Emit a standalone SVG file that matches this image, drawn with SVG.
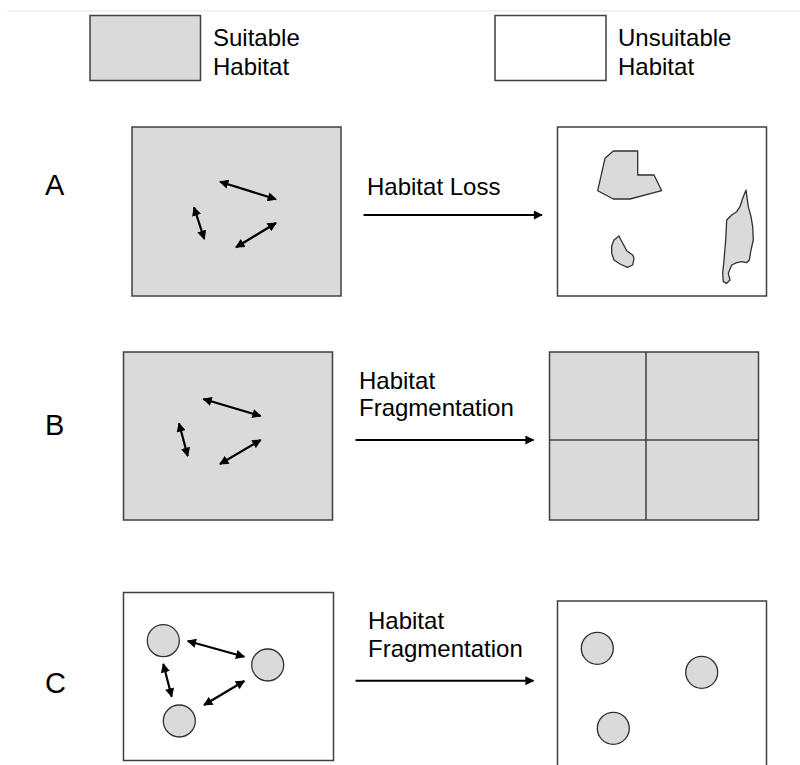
<svg xmlns="http://www.w3.org/2000/svg" width="800" height="765" viewBox="0 0 800 765">
  <defs>
    <marker id="head" viewBox="0 0 10 10" refX="9" refY="5" markerWidth="4.4" markerHeight="4.2" orient="auto-start-reverse" markerUnits="strokeWidth">
      <path d="M0,0 L10,5 L0,10 Z" fill="#000"/>
    </marker>
    <marker id="bighead" viewBox="0 0 10 10" refX="9" refY="5" markerWidth="5.5" markerHeight="4.5" orient="auto" markerUnits="strokeWidth">
      <path d="M0,0 L10,5 L0,10 Z" fill="#000"/>
    </marker>
    <style>
      .suit { fill: #dadada; stroke: #404040; stroke-width: 1.5; }
      .unsuit { fill: #ffffff; stroke: #404040; stroke-width: 1.5; }
      .patch { fill: #dadada; stroke: #303030; stroke-width: 1.3; stroke-linejoin: round; }
      .grid { stroke: #404040; stroke-width: 1.5; fill: none; }
      .move { stroke: #000; stroke-width: 2.2; fill: none; marker-start: url(#head); marker-end: url(#head); }
      .flow { stroke: #000; stroke-width: 2; fill: none; marker-end: url(#bighead); }
      text { font-family: "Liberation Sans", Arial, sans-serif; fill: #000; }
      .lbl { font-size: 24px; }
      .row { font-size: 29px; }
    </style>
  </defs>

  <rect width="800" height="765" fill="#ffffff"/>
  <line x1="7" y1="11" x2="800" y2="11" stroke="#f2f2f2" stroke-width="2"/>

  <!-- Legend -->
  <g id="legend-suitable">
    <rect class="suit" x="90" y="15.5" width="110.5" height="65"/>
    <text class="lbl" x="213" y="45.5">Suitable</text>
    <text class="lbl" x="213" y="75">Habitat</text>
  </g>
  <g id="legend-unsuitable">
    <rect class="unsuit" x="495" y="15.5" width="111" height="65"/>
    <text class="lbl" x="618" y="45.5">Unsuitable</text>
    <text class="lbl" x="618" y="75">Habitat</text>
  </g>

  <!-- Row labels -->
  <text class="row" x="45" y="194.5">A</text>
  <text class="row" x="45" y="434.5">B</text>
  <text class="row" x="45" y="692.5">C</text>

  <!-- Row A -->
  <g id="a-before">
    <rect class="suit" x="132" y="127" width="209" height="169"/>
  </g>
  <g id="a-after">
    <rect class="unsuit" x="557.5" y="127" width="209" height="169"/>
    <polygon class="patch" points="613.3,151 637.7,151 637.7,175 654,175 661.7,190.7 630,199 613.3,199 597.7,190.7 605,158.3"/>
    <path class="patch" d="M619,236 L621,240 L626.7,250.7 L632.7,255 L634,258.3 L632.7,265 L627.3,267.3 L620,264 L614,260 L611.7,253.3 L611.7,246 L614,240 Z"/>
    <path class="patch" d="M746,190 L748.3,206.7 L751,216.7 L752.7,226.7 L753.3,240 L751,250 L749.3,260 L746.7,262.7 L741.7,261.7 L736.7,262.7 L731.7,265 L728.3,273.3 L730,280 L726.7,283.3 L723.3,281.7 L722.7,273.3 L724,260 L725.7,240 L726.7,220 L731.7,215 L736.7,211.7 L740,206.7 L742.7,198.3 Z"/>
  </g>

  <!-- Row B -->
  <g id="b-before">
    <rect class="suit" x="123.5" y="352" width="209" height="168"/>
  </g>
  <g id="b-after">
    <rect class="suit" x="549.5" y="352" width="209" height="168"/>
    <line class="grid" x1="646" y1="352" x2="646" y2="520"/>
    <line class="grid" x1="549.5" y1="440" x2="758.5" y2="440"/>
  </g>

  <!-- Row C -->
  <g id="c-before">
    <rect class="unsuit" x="123.5" y="592.5" width="210" height="168"/>
    <circle class="patch" cx="163.3" cy="640.7" r="16"/>
    <circle class="patch" cx="267.7" cy="665" r="16"/>
    <circle class="patch" cx="179.3" cy="721" r="16"/>
  </g>
  <g id="c-after">
    <rect class="unsuit" x="557.5" y="601" width="209" height="180"/>
    <circle class="patch" cx="597.3" cy="648.3" r="16"/>
    <circle class="patch" cx="701.7" cy="672.3" r="16"/>
    <circle class="patch" cx="613.3" cy="728.3" r="16"/>
  </g>

  <!-- Connectors: movement arrows and transition arrows -->
  <g id="connectors">
    <line class="move" x1="220" y1="181.7" x2="276" y2="199.3"/>
    <line class="move" x1="194" y1="207.3" x2="204.3" y2="239"/>
    <line class="move" x1="276" y1="223" x2="236" y2="247.3"/>

    <line class="move" x1="203.3" y1="399" x2="260.7" y2="416"/>
    <line class="move" x1="179" y1="423.3" x2="187.7" y2="456"/>
    <line class="move" x1="260.7" y1="440" x2="220" y2="464"/>

    <line class="move" x1="187.7" y1="641" x2="244.3" y2="656.7"/>
    <line class="move" x1="163.3" y1="664" x2="171.7" y2="696.7"/>
    <line class="move" x1="244.3" y1="681" x2="204" y2="705"/>

    <line class="flow" x1="363.5" y1="215" x2="542" y2="215"/>
    <line class="flow" x1="355.5" y1="440" x2="533.5" y2="440"/>
    <line class="flow" x1="355.5" y1="680.7" x2="533.5" y2="680.7"/>

    <text class="lbl" x="367" y="194.5">Habitat Loss</text>
    <text class="lbl" x="359" y="388.5">Habitat</text>
    <text class="lbl" x="359" y="416">Fragmentation</text>
    <text class="lbl" x="368" y="629">Habitat</text>
    <text class="lbl" x="368" y="656.5">Fragmentation</text>
  </g>
</svg>
